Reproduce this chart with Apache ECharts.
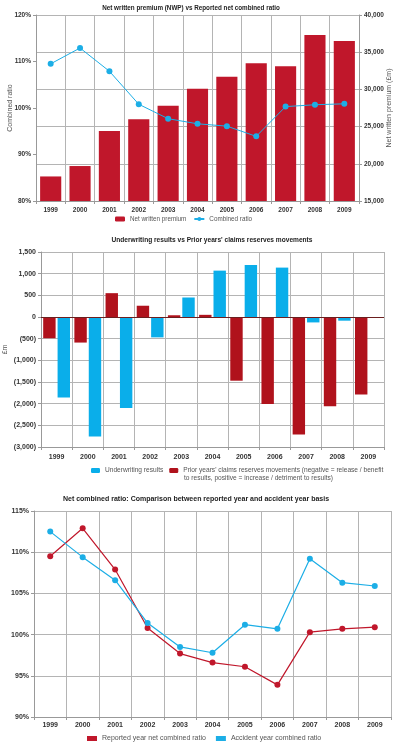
<!DOCTYPE html>
<html>
<head>
<meta charset="utf-8">
<script src="https://cdn.jsdelivr.net/npm/echarts@6/dist/echarts.min.js"></script>
<style>
  html, body { margin: 0; padding: 0; background: #fff; }
  #chart { width: 397px; height: 748px; }
</style>
</head>
<body>
<div id="chart"></div>
<script>
const years = ["1999", "2000", "2001", "2002", "2003", "2004", "2005", "2006", "2007", "2008", "2009"];

// chart 1
const netWrittenPremium = [18300, 19700, 24400, 26000, 27800, 30100, 31700, 33500, 33100, 37300, 36500];
const reportedCombinedRatio = [109.5, 112.9, 107.9, 100.8, 97.7, 96.6, 96.1, 93.9, 100.3, 100.7, 100.9];

// chart 2
const underwritingResults = [-1860, -2760, -2100, -470, 450, 1070, 1200, 1140, -125, -85, -10];
const priorYearsMovements = [-490, -590, 550, 260, 40, 50, -1470, -2010, -2710, -2060, -1790];

// chart 3
const accidentYearRatio = [112.5, 109.4, 106.6, 101.4, 98.5, 97.8, 101.2, 100.7, 109.2, 106.3, 105.9];

const FONT = "Liberation Sans";
const RED = "#C0172B";
const DARK_RED = "#B0121C";
const BLUE = "#1CAEE6";
const GRID = "#b4b4b4";

const priorName = "Prior years' claims reserves movements (negative = release / benefit to results, positive = increase / detriment to results)";

const fmtThousands = (v) => Math.abs(v).toLocaleString("en-GB");
const fmtBrackets = (v) => (v < 0 ? "(" + fmtThousands(v) + ")" : fmtThousands(v));

const label = { fontFamily: FONT, fontSize: 7, fontWeight: "bold", color: "#333" };
const label1 = { ...label, fontSize: 6.5 };
const titleStyle = { fontFamily: FONT, fontSize: 7, fontWeight: "bold", color: "#222" };
const legendText = { fontFamily: FONT, fontSize: 7, color: "#555" };
const nameStyle = { fontFamily: FONT, fontSize: 7, color: "#555" };

const catAxis = (gridIndex, margin, lbl) => ({
  type: "category",
  gridIndex,
  data: years,
  axisLine: { onZero: false, lineStyle: { color: "#999", width: 1 } },
  axisTick: { show: true, length: 3, lineStyle: { color: "#999" } },
  axisLabel: { ...lbl, margin },
  splitLine: { show: true, lineStyle: { color: GRID, width: 1 } },
});

const myChart = echarts.init(document.getElementById("chart"));
window.addEventListener("resize", () => {
  myChart.resize();
});

myChart.setOption({
  animation: false,
  title: [
    { text: "Net written premium (NWP) vs Reported net combined ratio", left: 191, top: 5, padding: 0, textAlign: "center", textStyle: { ...titleStyle, fontSize: 6.3 } },
    { text: "Underwriting results vs Prior years' claims reserves movements", left: 212, top: 237, padding: 0, textAlign: "center", textStyle: { ...titleStyle, fontSize: 6.6 } },
    { text: "Net combined ratio: Comparison between reported year and accident year basis", left: 196, top: 496, padding: 0, textAlign: "center", textStyle: titleStyle },
  ],
  legend: [
    {
      data: ["Net written premium", "Combined ratio"],
      left: 115, top: 216, padding: 0, itemWidth: 10, itemHeight: 5, itemGap: 7,
      textStyle: { ...legendText, fontSize: 6.3 },
    },
    {
      data: ["Underwriting results", priorName],
      left: 91, top: 467, padding: 0, width: 320, itemWidth: 9, itemHeight: 5, itemGap: 6,
      textStyle: { ...legendText, fontSize: 6.6 },
      formatter: (name) => (name === priorName ? "Prior years' claims reserves movements (negative = release / benefit" : name),
    },
    {
      data: ["Reported year net combined ratio", "Accident year combined ratio"],
      left: 87, top: 735, padding: 0, itemWidth: 10, itemHeight: 5, itemGap: 10,
      textStyle: legendText,
      icon: "rect",
    },
  ],
  graphic: [
    {
      type: "text",
      left: 184, top: 475,
      style: { text: "to results, positive = increase / detriment to results)", fontFamily: FONT, fontSize: 6.6, fill: "#555" },
    },
  ],
  grid: [
    { left: 36, right: 38, top: 15, height: 186, outerBoundsMode: "none" },
    { left: 41, right: 13, top: 252, height: 195, outerBoundsMode: "none" },
    { left: 34, right: 6, top: 511, height: 206, outerBoundsMode: "none" },
  ],
  xAxis: [catAxis(0, 6, label1), catAxis(1, 7, label), catAxis(2, 5, label)],
  yAxis: [
    {
      type: "value", gridIndex: 0, min: 80, max: 120, interval: 10,
      name: "Combined ratio", nameLocation: "middle", nameGap: 22, nameRotate: 90, nameMoveOverlap: false,
      nameTextStyle: nameStyle,
      axisLine: { show: true, lineStyle: { color: "#999" } },
      axisTick: { show: true, length: 3, lineStyle: { color: "#999" } },
      axisLabel: { ...label1, margin: 5, formatter: "{value}%" },
      splitLine: { show: false },
    },
    {
      type: "value", gridIndex: 0, position: "right", min: 15000, max: 40000, interval: 5000,
      name: "Net written premium (£m)", nameLocation: "middle", nameGap: 27, nameRotate: 90, nameMoveOverlap: false,
      nameTextStyle: nameStyle,
      axisLine: { show: true, lineStyle: { color: "#999" } },
      axisTick: { show: true, length: 3, lineStyle: { color: "#999" } },
      axisLabel: { ...label1, margin: 5, formatter: fmtThousands },
      splitLine: { show: true, lineStyle: { color: GRID } },
    },
    {
      type: "value", gridIndex: 1, min: -3000, max: 1500, interval: 500,
      name: "£m", nameLocation: "middle", nameGap: 32, nameRotate: 90, nameMoveOverlap: false,
      nameTextStyle: nameStyle,
      axisLine: { show: true, lineStyle: { color: "#999" } },
      axisTick: { show: true, length: 3, lineStyle: { color: "#999" } },
      axisLabel: { ...label, margin: 5, formatter: fmtBrackets },
      splitLine: { show: true, lineStyle: { color: GRID } },
    },
    {
      type: "value", gridIndex: 2, min: 90, max: 115, interval: 5,
      axisLine: { show: true, lineStyle: { color: "#999" } },
      axisTick: { show: true, length: 3, lineStyle: { color: "#999" } },
      axisLabel: { ...label, margin: 5, formatter: "{value}%" },
      splitLine: { show: true, lineStyle: { color: GRID } },
    },
  ],
  series: [
    {
      name: "Net written premium", type: "bar", xAxisIndex: 0, yAxisIndex: 1,
      data: netWrittenPremium, barCategoryGap: "28%",
      itemStyle: { color: RED },
    },
    {
      name: "Combined ratio", type: "line", xAxisIndex: 0, yAxisIndex: 0,
      data: reportedCombinedRatio, symbol: "circle", symbolSize: 6,
      lineStyle: { color: BLUE, width: 1 }, itemStyle: { color: BLUE },
    },
    {
      name: priorName, type: "bar", xAxisIndex: 1, yAxisIndex: 2,
      data: priorYearsMovements, barGap: "16%", barCategoryGap: "14%",
      itemStyle: { color: DARK_RED },
      markLine: {
        silent: true, symbol: "none", label: { show: false },
        lineStyle: { color: "#6b1f1f", type: "solid", width: 1 },
        data: [{ yAxis: 0 }],
      },
    },
    {
      name: "Underwriting results", type: "bar", xAxisIndex: 1, yAxisIndex: 2,
      data: underwritingResults, barGap: "16%", barCategoryGap: "14%",
      itemStyle: { color: "#0AAEEA" },
    },
    {
      name: "Reported year net combined ratio", type: "line", xAxisIndex: 2, yAxisIndex: 3,
      data: reportedCombinedRatio, symbol: "circle", symbolSize: 6,
      lineStyle: { color: RED, width: 1.2 }, itemStyle: { color: RED },
    },
    {
      name: "Accident year combined ratio", type: "line", xAxisIndex: 2, yAxisIndex: 3,
      data: accidentYearRatio, symbol: "circle", symbolSize: 6,
      lineStyle: { color: BLUE, width: 1.2 }, itemStyle: { color: BLUE },
    },
  ],
});
</script>
</body>
</html>
